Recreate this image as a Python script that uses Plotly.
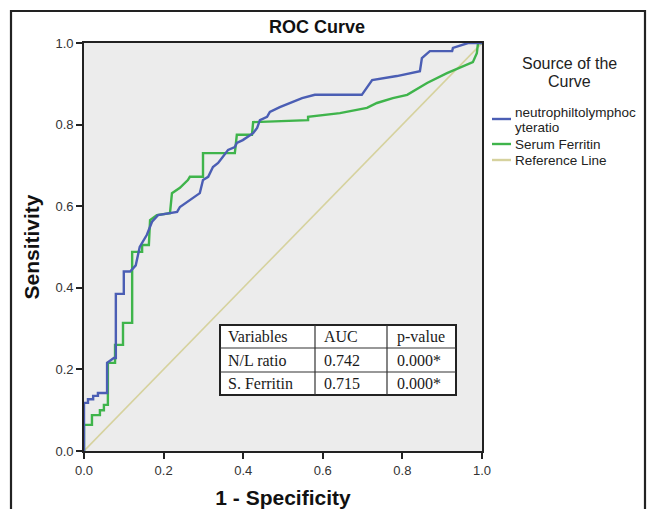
import plotly.graph_objects as go

# ---- data ----
nl_fpr = [0, 0, 0.01, 0.01, 0.023, 0.023, 0.035, 0.035, 0.058, 0.058, 0.075, 0.08, 0.08, 0.1, 0.1,
          0.116, 0.13, 0.14, 0.158, 0.171, 0.186, 0.234, 0.241, 0.266, 0.291, 0.299, 0.312, 0.324,
          0.337, 0.349, 0.362, 0.379, 0.384, 0.399, 0.41, 0.425, 0.435, 0.442, 0.46, 0.467, 0.492,
          0.525, 0.548, 0.58, 0.698, 0.724, 0.786, 0.844, 0.849, 0.869, 0.925, 0.927, 0.965, 1.0]
nl_tpr = [0, 0.118, 0.118, 0.127, 0.127, 0.135, 0.135, 0.142, 0.142, 0.216, 0.228, 0.228, 0.385, 0.385, 0.44,
          0.44, 0.455, 0.5, 0.53, 0.562, 0.578, 0.586, 0.598, 0.615, 0.632, 0.664, 0.672, 0.696,
          0.706, 0.721, 0.738, 0.745, 0.755, 0.762, 0.77, 0.779, 0.792, 0.811, 0.819, 0.831, 0.843,
          0.855, 0.865, 0.873, 0.873, 0.909, 0.919, 0.931, 0.963, 0.98, 0.98, 0.988, 1.0, 1.0]

fe_fpr = [0, 0, 0.02, 0.02, 0.04, 0.04, 0.05, 0.05, 0.06, 0.06, 0.078, 0.078, 0.098, 0.098, 0.121,
          0.121, 0.146, 0.146, 0.163, 0.166, 0.183, 0.216, 0.221, 0.241, 0.261, 0.266, 0.299, 0.299,
          0.379, 0.384, 0.422, 0.425, 0.563, 0.563, 0.643, 0.711, 0.736, 0.776, 0.812, 0.862, 0.912,
          0.945, 0.977, 0.987, 0.99, 1.0]
fe_tpr = [0, 0.064, 0.064, 0.088, 0.088, 0.1, 0.1, 0.113, 0.113, 0.216, 0.216, 0.26, 0.26, 0.314, 0.314,
          0.488, 0.488, 0.505, 0.505, 0.566, 0.578, 0.583, 0.632, 0.645, 0.664, 0.672, 0.672, 0.73,
          0.73, 0.775, 0.775, 0.806, 0.811, 0.819, 0.828, 0.841, 0.853, 0.865, 0.873, 0.902, 0.926,
          0.939, 0.953, 0.975, 1.0, 1.0]

ref_x = [0, 1]
ref_y = [0, 1]

# legend labels (the first one wraps over two lines in the original)
series_labels = [["neutrophiltolymphoc", "yteratio"], ["Serum Ferritin"], ["Reference Line"]]
table_header = ["Variables", "AUC", "p-value"]
table_vars = ["N/L ratio", "S. Ferritin"]
table_auc = ["0.742", "0.715"]
table_p = ["0.000*", "0.000*"]
tick_vals = [0, 0.2, 0.4, 0.6, 0.8, 1.0]
tick_text = ["0.0", "0.2", "0.4", "0.6", "0.8", "1.0"]

# ---- style ----
BLUE = "#4b5eb4"
GREEN = "#3fb44b"
TAN = "#d6d29e"
FONT = "Liberation Sans, Arial, sans-serif"
SERIF = "Liberation Serif, Times New Roman, serif"

# the page body has an 8px margin; size the figure so it fits the window exactly
OFF = 8
W, H = 657 - OFF, 517 - 2 * OFF
# plot area in window pixels
L, R, T, B = 84, 482, 43, 451


def px(x):
    return (x - L) / (R - L)


def py(y):
    return (B - y) / (B - T)


fig = go.Figure()
fig.add_trace(go.Scatter(x=ref_x, y=ref_y, mode="lines", line=dict(color=TAN, width=1.6),
                         name="Reference Line", showlegend=False, hoverinfo="skip"))
fig.add_trace(go.Scatter(x=fe_fpr, y=fe_tpr, mode="lines", line=dict(color=GREEN, width=2.4),
                         name="Serum Ferritin", showlegend=False))
fig.add_trace(go.Scatter(x=nl_fpr, y=nl_tpr, mode="lines", line=dict(color=BLUE, width=2.4),
                         name="neutrophiltolymphocyteratio", showlegend=False))

shapes = []
annotations = []

# outer frame
shapes.append(dict(type="rect", xref="paper", yref="paper", x0=px(11), x1=px(645), y0=py(540), y1=py(11),
                   line=dict(color="#222", width=2.2), fillcolor="rgba(0,0,0,0)", layer="above"))

# legend (manual, SPSS style)
annotations.append(dict(xref="paper", yref="paper", x=px(569), y=py(63), text="Source of the",
                        showarrow=False, font=dict(family=FONT, size=16, color="#222"),
                        xanchor="center", yanchor="middle"))
annotations.append(dict(xref="paper", yref="paper", x=px(569), y=py(81), text="Curve",
                        showarrow=False, font=dict(family=FONT, size=16, color="#222"),
                        xanchor="center", yanchor="middle"))
leg_cols = [BLUE, GREEN, TAN]
leg_line_y = [119, 144, 160]
leg_text_y = [[112.5, 127], [144], [160]]
for labels, col, ly, tys in zip(series_labels, leg_cols, leg_line_y, leg_text_y):
    shapes.append(dict(type="line", xref="paper", yref="paper", x0=px(492), x1=px(511), y0=py(ly), y1=py(ly),
                       line=dict(color=col, width=2.4)))
    for txt, ty in zip(labels, tys):
        annotations.append(dict(xref="paper", yref="paper", x=px(513), y=py(ty), text=txt, align="left",
                                showarrow=False, font=dict(family=FONT, size=13.5, color="#222"),
                                xanchor="left", yanchor="middle"))

# table
col_x = [220, 315, 387, 456]
row_y = [325, 348, 372, 395]
text_x = [226, 322, 395]
shapes.append(dict(type="rect", xref="paper", yref="paper", x0=px(col_x[0]), x1=px(col_x[-1]),
                   y0=py(row_y[-1]), y1=py(row_y[0]),
                   line=dict(color="#222", width=2), fillcolor="white"))
for cx in col_x[1:-1]:
    shapes.append(dict(type="line", xref="paper", yref="paper", x0=px(cx), x1=px(cx), y0=py(row_y[-1]), y1=py(row_y[0]),
                       line=dict(color="#333", width=1.2)))
for ry in row_y[1:-1]:
    shapes.append(dict(type="line", xref="paper", yref="paper", x0=px(col_x[0]), x1=px(col_x[-1]), y0=py(ry), y1=py(ry),
                       line=dict(color="#333", width=1.2)))
rows = [table_header] + [[v, a, p] for v, a, p in zip(table_vars, table_auc, table_p)]
for ri, row in enumerate(rows):
    yc = (row_y[ri] + row_y[ri + 1]) / 2
    for ci, txt in enumerate(row):
        annotations.append(dict(xref="paper", yref="paper", x=px(text_x[ci]), y=py(yc), text=txt,
                                showarrow=False, font=dict(family=SERIF, size=16, color="#1a1a1a"),
                                xanchor="left", yanchor="middle"))

# title
annotations.append(dict(xref="paper", yref="paper", x=px(317), y=py(27), text="<b>ROC Curve</b>",
                        showarrow=False, font=dict(family=FONT, size=18, color="#111"),
                        xanchor="center", yanchor="middle"))

fig.update_layout(
    width=W, height=H,
    margin=dict(l=L - OFF, r=W - (R - OFF), t=T - OFF, b=H - (B - OFF), pad=0),
    paper_bgcolor="white",
    plot_bgcolor="#ececec",
    shapes=shapes,
    annotations=annotations,
    showlegend=False,
    xaxis=dict(range=[0, 1], tickvals=tick_vals, ticktext=tick_text, ticks="outside", ticklen=6,
               tickwidth=1.5, tickcolor="#222", showgrid=False, zeroline=False, automargin=False,
               showline=True, linecolor="#222", linewidth=1.8, mirror=True,
               tickfont=dict(family=FONT, size=13, color="#333"),
               title=dict(text="<b>1 - Specificity</b>", font=dict(family=FONT, size=21, color="#111"), standoff=14)),
    yaxis=dict(range=[0, 1], tickvals=tick_vals, ticktext=tick_text, ticks="outside", ticklen=6,
               tickwidth=1.5, tickcolor="#222", showgrid=False, zeroline=False, automargin=False,
               showline=True, linecolor="#222", linewidth=1.8, mirror=True,
               tickfont=dict(family=FONT, size=13, color="#333"),
               title=dict(text="<b>Sensitivity</b>", font=dict(family=FONT, size=21, color="#111"), standoff=10)),
)

fig.write_html("out.html")
